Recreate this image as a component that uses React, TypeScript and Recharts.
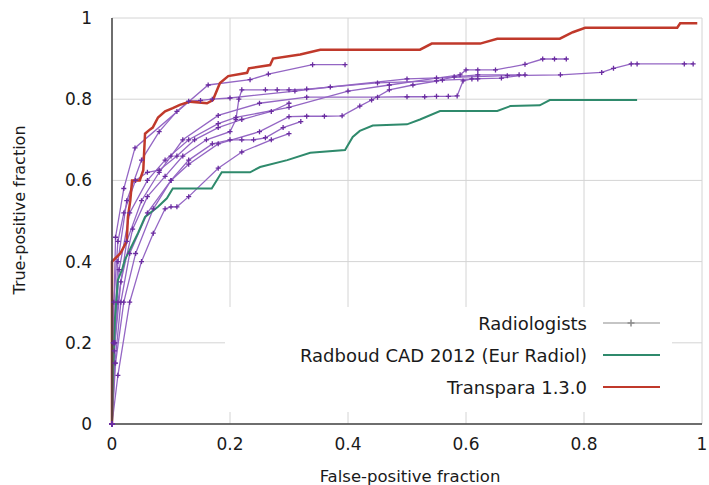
import React from 'react';
import { LineChart, Line, XAxis, YAxis, CartesianGrid, Legend, Label } from 'recharts';

// ROC points as [false-positive fraction, true-positive fraction]
const transpara = [
  [0, 0], [0, 0.4], [0.014, 0.42], [0.025, 0.45], [0.027, 0.51], [0.031, 0.55], [0.034, 0.6],
  [0.047, 0.6], [0.053, 0.625], [0.056, 0.715], [0.064, 0.725], [0.069, 0.73], [0.078, 0.755],
  [0.09, 0.77], [0.103, 0.778], [0.115, 0.786], [0.132, 0.794], [0.161, 0.79], [0.171, 0.798],
  [0.183, 0.84], [0.197, 0.857], [0.229, 0.865], [0.232, 0.876], [0.268, 0.884], [0.273, 0.9],
  [0.319, 0.91], [0.353, 0.922], [0.522, 0.922], [0.542, 0.937], [0.624, 0.937], [0.653, 0.949],
  [0.759, 0.949], [0.781, 0.965], [0.802, 0.976], [0.958, 0.976], [0.963, 0.987], [0.992, 0.987],
];

const radboudCad = [
  [0, 0], [0.002, 0.13], [0.005, 0.26], [0.01, 0.355], [0.017, 0.38], [0.022, 0.405], [0.044, 0.47],
  [0.056, 0.51], [0.078, 0.535], [0.093, 0.556], [0.103, 0.58], [0.169, 0.58], [0.186, 0.62],
  [0.234, 0.62], [0.251, 0.633], [0.297, 0.65], [0.336, 0.668], [0.395, 0.675], [0.408, 0.707],
  [0.42, 0.722], [0.442, 0.735], [0.5, 0.738], [0.522, 0.75], [0.556, 0.771], [0.653, 0.771],
  [0.675, 0.783], [0.725, 0.785], [0.742, 0.798], [0.89, 0.798],
];

const reader1 = [
  [0, 0], [0.002, 0.2], [0.006, 0.46], [0.02, 0.58], [0.039, 0.68], [0.163, 0.835], [0.234, 0.848],
  [0.265, 0.862], [0.34, 0.885], [0.395, 0.885],
];
const reader2 = [
  [0, 0], [0.003, 0.2], [0.01, 0.4], [0.025, 0.55], [0.05, 0.65], [0.08, 0.72], [0.11, 0.77],
  [0.13, 0.795], [0.15, 0.797], [0.17, 0.8], [0.2, 0.803], [0.31, 0.82], [0.37, 0.83], [0.5, 0.85],
  [0.67, 0.858], [0.76, 0.86], [0.83, 0.866], [0.85, 0.876], [0.88, 0.887], [0.89, 0.887],
  [0.97, 0.887], [0.985, 0.887],
];
const reader3 = [
  [0, 0], [0.004, 0.2], [0.012, 0.38], [0.03, 0.52], [0.06, 0.6], [0.09, 0.65], [0.13, 0.7],
  [0.18, 0.74], [0.21, 0.755], [0.3, 0.78], [0.4, 0.82], [0.47, 0.835], [0.55, 0.852], [0.59, 0.86],
  [0.6, 0.872], [0.62, 0.872], [0.65, 0.872], [0.7, 0.886], [0.73, 0.899], [0.75, 0.899], [0.77, 0.899],
];
const reader4 = [
  [0, 0], [0.005, 0.2], [0.015, 0.35], [0.035, 0.48], [0.06, 0.56], [0.09, 0.61], [0.12, 0.66],
  [0.16, 0.7], [0.2, 0.72], [0.21, 0.75], [0.215, 0.8], [0.22, 0.823], [0.26, 0.823], [0.28, 0.823],
  [0.3, 0.823], [0.33, 0.825], [0.45, 0.84], [0.55, 0.845], [0.58, 0.855], [0.62, 0.86], [0.69, 0.86],
];
const reader5 = [
  [0, 0], [0.004, 0.18], [0.01, 0.3], [0.025, 0.45], [0.05, 0.55], [0.08, 0.62], [0.1, 0.66],
  [0.12, 0.7], [0.18, 0.76], [0.25, 0.79], [0.33, 0.805], [0.45, 0.805], [0.5, 0.806], [0.53, 0.806],
  [0.55, 0.807], [0.57, 0.807], [0.585, 0.808], [0.595, 0.845], [0.61, 0.85], [0.66, 0.852], [0.7, 0.86],
];
const reader6 = [
  [0, 0], [0.005, 0.15], [0.015, 0.3], [0.03, 0.42], [0.06, 0.52], [0.1, 0.6], [0.13, 0.64],
  [0.18, 0.69], [0.25, 0.72], [0.3, 0.757], [0.33, 0.758], [0.36, 0.758], [0.39, 0.759], [0.42, 0.783],
  [0.44, 0.798], [0.47, 0.823], [0.51, 0.835], [0.56, 0.847], [0.62, 0.85],
];
const reader7 = [
  [0, 0], [0.006, 0.15], [0.02, 0.3], [0.04, 0.42], [0.07, 0.53], [0.1, 0.6], [0.13, 0.65],
  [0.17, 0.69], [0.2, 0.7], [0.22, 0.7], [0.24, 0.7], [0.26, 0.705], [0.29, 0.73], [0.32, 0.745],
];
const reader8 = [
  [0, 0], [0.01, 0.12], [0.03, 0.3], [0.05, 0.4], [0.07, 0.47], [0.09, 0.53], [0.1, 0.535],
  [0.11, 0.535], [0.13, 0.56], [0.18, 0.63], [0.22, 0.67], [0.27, 0.7], [0.3, 0.715],
];
const reader9 = [
  [0, 0], [0.003, 0.3], [0.01, 0.45], [0.02, 0.52], [0.04, 0.6], [0.06, 0.62], [0.08, 0.625],
  [0.11, 0.66], [0.14, 0.7], [0.18, 0.73], [0.22, 0.75], [0.27, 0.77], [0.3, 0.79],
];

const radiologists = [reader1, reader2, reader3, reader4, reader5, reader6, reader7, reader8, reader9];

const fractionTicks = [0, 0.2, 0.4, 0.6, 0.8, 1];

const legendItems = [
  { name: 'Radiologists', color: '#8c8c8c', marker: true },
  { name: 'Radboud CAD 2012 (Eur Radiol)', color: '#2f8a6c', marker: false },
  { name: 'Transpara 1.3.0', color: '#c0392b', marker: false },
];

const toPoints = (pts: number[][]) => pts.map(([x, y]) => ({ x, y }));

const FONT = '"DejaVu Sans", "Liberation Sans", sans-serif';

const renderPlus = (props: any) => {
  const { cx, cy, index } = props;
  if (cx == null || cy == null) return <g key={index} />;
  return (
    <path
      key={index}
      d={`M${cx - 2.5},${cy}h5M${cx},${cy - 2.5}v5`}
      stroke="#6a2ca0"
      strokeWidth={1.3}
    />
  );
};

const LegendBox = () => (
  <div style={{ background: '#fff', width: '100%', height: '100%', fontFamily: FONT, fontSize: 18, color: '#1a1a1a' }}>
    {legendItems.map((item, i) => (
      <div
        key={item.name}
        style={{ position: 'absolute', top: 2 + i * 32, right: 12, height: 28, display: 'flex', alignItems: 'center' }}
      >
        <span style={{ marginRight: 16 }}>{item.name}</span>
        <svg width={57} height={10}>
          <line x1={0} y1={5} x2={57} y2={5} stroke={item.color} strokeWidth={item.marker ? 1.2 : 2.2} />
          {item.marker && <path d="M28,1.5v7M24.5,5h7" stroke={item.color} strokeWidth={1.5} />}
        </svg>
      </div>
    ))}
  </div>
);

export default function App() {
  return (
    <div style={{ position: 'absolute', left: 0, top: 0, background: '#fff' }}>
      <LineChart width={709} height={485} margin={{ top: 18, right: 7, left: 0, bottom: 0 }}>
        <CartesianGrid stroke="#d4d4d4" strokeWidth={1} />
        <XAxis
          dataKey="x"
          type="number"
          domain={[0, 1]}
          ticks={fractionTicks}
          height={61}
          tickLine={false}
          tickMargin={8}
          axisLine={{ stroke: '#444', strokeWidth: 1.5 }}
          tick={{ fill: '#1a1a1a', fontSize: 17, fontFamily: FONT }}
        >
          <Label
            content={() => (
              <text x={410} y={482} textAnchor="middle" fill="#1a1a1a" fontSize={16.5} fontFamily={FONT}>
                False-positive fraction
              </text>
            )}
          />
        </XAxis>
        <XAxis xAxisId="top" orientation="top" type="number" domain={[0, 1]} height={0} tick={false} tickLine={false} axisLine={{ stroke: '#444', strokeWidth: 1.5 }} />
        <YAxis
          type="number"
          domain={[0, 1]}
          ticks={fractionTicks}
          width={112}
          tickLine={false}
          tickMargin={14}
          axisLine={{ stroke: '#444', strokeWidth: 1.5 }}
          tick={{ fill: '#1a1a1a', fontSize: 17, fontFamily: FONT }}
        >
          <Label
            content={() => (
              <text x={25} y={210} transform="rotate(-90 25 210)" textAnchor="middle" fill="#1a1a1a" fontSize={16} fontFamily={FONT}>
                True-positive fraction
              </text>
            )}
          />
        </YAxis>
        <YAxis yAxisId="right" orientation="right" type="number" domain={[0, 1]} width={0} tick={false} tickLine={false} axisLine={{ stroke: '#444', strokeWidth: 1.5 }} />
        {radiologists.map((r, i) => (
          <Line
            key={`reader${i + 1}`}
            data={toPoints(r)}
            dataKey="y"
            type="linear"
            stroke="#9466c4"
            strokeWidth={1.3}
            dot={renderPlus}
            activeDot={false}
            legendType="none"
            isAnimationActive={false}
          />
        ))}
        <Line
          data={toPoints(radboudCad)}
          dataKey="y"
          name="Radboud CAD 2012 (Eur Radiol)"
          type="linear"
          stroke="#2f8a6c"
          strokeWidth={2}
          dot={false}
          activeDot={false}
          isAnimationActive={false}
        />
        <Line
          data={toPoints(transpara)}
          dataKey="y"
          name="Transpara 1.3.0"
          type="linear"
          stroke="#c0392b"
          strokeWidth={2.5}
          dot={false}
          activeDot={false}
          isAnimationActive={false}
        />
        <Legend
          layout="vertical"
          align="center"
          verticalAlign="middle"
          content={() => <LegendBox />}
          wrapperStyle={{ left: 225, top: 307, width: 447, height: 105, background: '#fff' }}
        />
      </LineChart>
    </div>
  );
}
